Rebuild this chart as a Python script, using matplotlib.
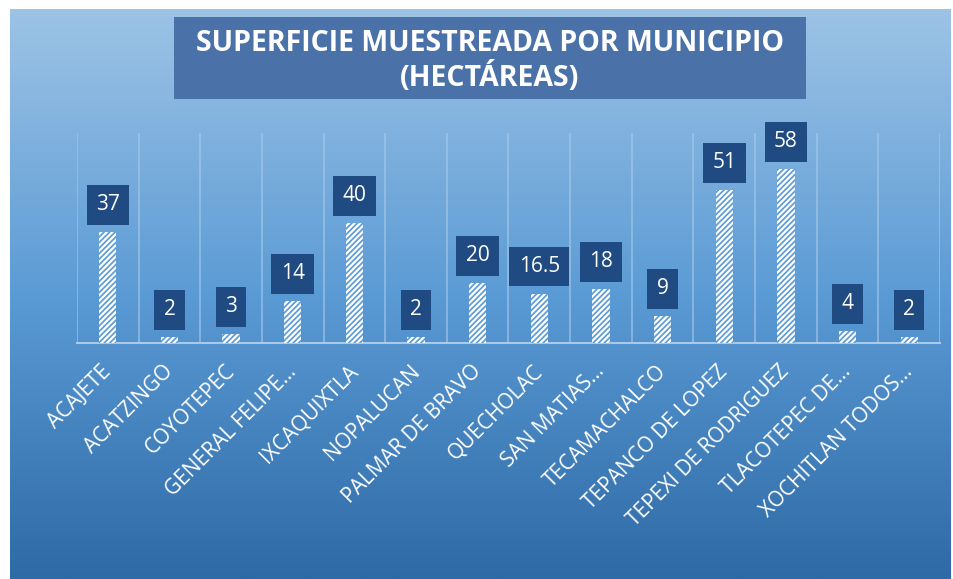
import numpy as np
import matplotlib.pyplot as plt
import matplotlib as mpl
import matplotlib.transforms as mtransforms
from matplotlib.colors import LinearSegmentedColormap

municipios = ["ACAJETE", "ACATZINGO", "COYOTEPEC", "GENERAL FELIPE…",
              "IXCAQUIXTLA", "NOPALUCAN", "PALMAR DE BRAVO", "QUECHOLAC",
              "SAN MATIAS…", "TECAMACHALCO", "TEPANCO DE LOPEZ",
              "TEPEXI DE RODRIGUEZ", "TLACOTEPEC DE…", "XOCHITLAN TODOS…"]
hectareas = [37, 2, 3, 14, 40, 2, 20, 16.5, 18, 9, 51, 58, 4, 2]
etiquetas = ["37", "2", "3", "14", "40", "2", "20", "16.5", "18", "9", "51", "58", "4", "2"]

W, H = 954, 579
fig = plt.figure(figsize=(W/100, H/100), dpi=100)
fig.patch.set_facecolor("white")

# gradient background panel
bg = fig.add_axes([10/W, 0, 941/W, 570/H], zorder=0)
grad = np.linspace(0, 1, 256).reshape(-1, 1)
cmap = LinearSegmentedColormap.from_list("bg", ["#9dc3e6", "#5b9bd5", "#2e6aa6"])
bg.imshow(grad, aspect="auto", cmap=cmap, extent=[0, 1, 0, 1], origin="upper")
bg.axis("off")

# plot area
x0, x1 = 77, 940
y_top, y_base = 133, 343
ax = fig.add_axes([x0/W, 1 - y_base/H, (x1-x0)/W, (y_base-y_top)/H], zorder=1)
ax.patch.set_alpha(0)

n = len(municipios)
xs = np.arange(n)
mpl.rcParams['hatch.color'] = "white"
mpl.rcParams['hatch.linewidth'] = 1.6
bars = ax.bar(xs, hectareas, width=0.28, color="#5b9bd5", edgecolor="white",
              hatch="//////", linewidth=0, zorder=3)
ax.set_xlim(-0.5, n - 0.5)
ax.set_ylim(0, 70)

for b in np.arange(-0.5, n, 1.0):
    ax.axvline(b, color="#a9c9e8", lw=1.2, alpha=0.7, zorder=1)
for s in ["top", "right", "left"]:
    ax.spines[s].set_visible(False)
ax.spines["bottom"].set_color("#a9c9e8")
ax.spines["bottom"].set_linewidth(1.5)
ax.set_yticks([])
ax.tick_params(axis="x", length=0, pad=13)
ax.set_xticks(xs)
ax.set_xticklabels(municipios, rotation=45, ha="right", rotation_mode="anchor",
                   color="white", fontsize=15, family="Open Sans")
shift = mtransforms.ScaledTranslation(-7/100, 0, fig.dpi_scale_trans)
for lbl in ax.get_xticklabels():
    lbl.set_transform(lbl.get_transform() + shift)

for x, v, t in zip(xs, hectareas, etiquetas):
    ax.annotate(t, (x, v), xytext=(0, 19.5), textcoords="offset points",
                ha="center", va="center", color="white", fontsize=15,
                family="Open Sans",
                bbox=dict(boxstyle="square,pad=0.45", fc="#1f4a82", ec="none"),
                zorder=4)

# title box
fig.patches.append(plt.Rectangle((174/W, 1 - 99/H), (806-174)/W, 82/H,
                                 transform=fig.transFigure, fc="#4a72a8",
                                 ec="none", zorder=2))
fig.text(490/W, 1 - 61/H, "SUPERFICIE MUESTREADA POR MUNICIPIO\n(HECTÁREAS)",
         ha="center", va="center", color="white", fontsize=20.5, weight="bold",
         family="Open Sans", linespacing=1.15, zorder=3)

fig.savefig("out.png", dpi=100)
